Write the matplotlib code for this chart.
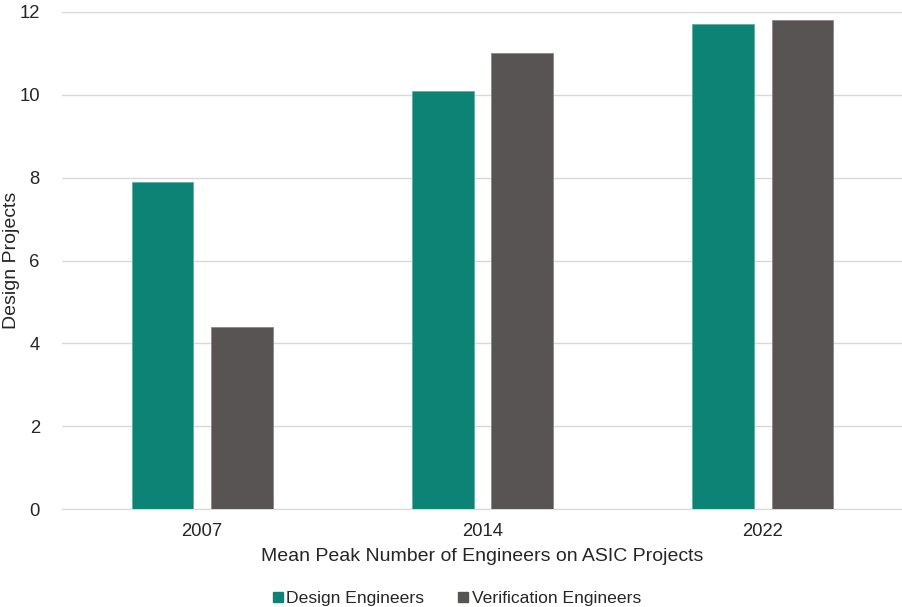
import numpy as np
import matplotlib.pyplot as plt
from matplotlib.lines import Line2D

plt.rcParams['font.family'] = ['Liberation Sans', 'DejaVu Sans']

years = ['2007', '2014', '2022']
design = [7.9, 10.1, 11.7]
verification = [4.4, 11.0, 11.8]
series_names = ['Design Engineers', 'Verification Engineers']
colors = ['#0C8374', '#585453']
edges = ['#5FAFA4', '#8A8786']

fig = plt.figure(figsize=(9.03, 6.07), dpi=100)
ax = fig.add_axes([62/903, 98/607, 841/903, 497/607])

x = np.arange(len(years))
w = 0.22
off = 0.142
ax.bar(x - off, design, w, color=colors[0], edgecolor=edges[0], linewidth=0.6, zorder=3)
ax.bar(x + off, verification, w, color=colors[1], edgecolor=edges[1], linewidth=0.6, zorder=3)

ax.set_xlim(-0.5, 2.5)
ax.set_ylim(0, 12)
ax.set_yticks(np.arange(0, 13, 2))
ax.set_xticks(x)
ax.set_xticklabels(years)
ax.grid(axis='y', color='#D9D9D9', linewidth=1, zorder=0)
for s in ['top', 'right', 'left']:
    ax.spines[s].set_visible(False)
ax.spines['bottom'].set_color('#D9D9D9')
ax.tick_params(length=0, labelsize=13.3, colors='#262626')
ax.tick_params(axis='x', pad=10)
ax.tick_params(axis='y', pad=16)

ax.set_xlabel('Mean Peak Number of Engineers on ASIC Projects', fontsize=14, color='#262626', labelpad=6)
fig.text(12/903, 1 - 260/607, 'Design Projects', rotation=90, fontsize=14, color='#262626',
         ha='center', va='center')

handles = [Line2D([], [], marker='s', linestyle='none', markersize=7.5, color=c) for c in colors]
fig.legend(handles, series_names, loc='center', bbox_to_anchor=(454/903, 1 - 598/607),
           ncol=2, frameon=False, fontsize=12.6, handletextpad=-0.1, handlelength=1.2,
           columnspacing=1.6, labelcolor='#262626')

fig.savefig('out.png', dpi=100)
